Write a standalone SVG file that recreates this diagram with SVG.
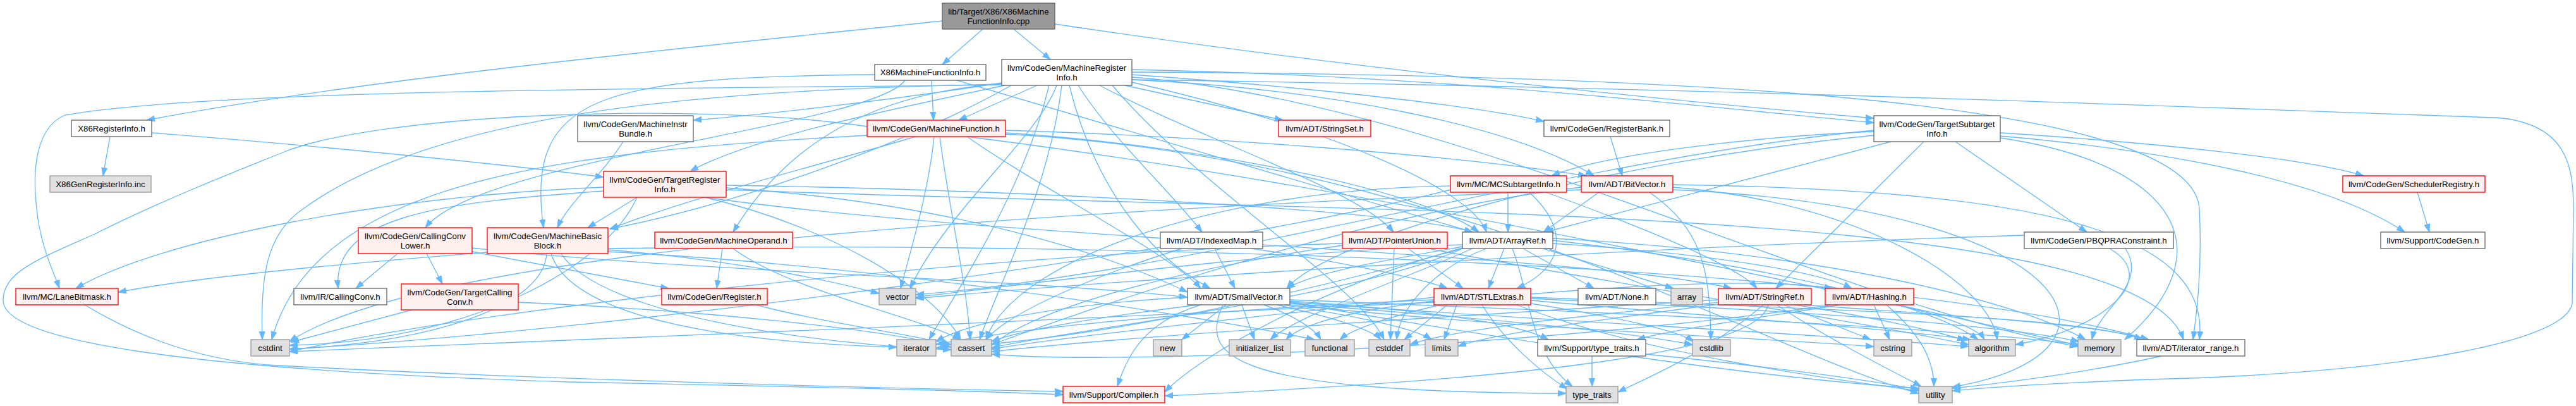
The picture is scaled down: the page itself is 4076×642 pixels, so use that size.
<svg xmlns="http://www.w3.org/2000/svg" width="4076" height="642" viewBox="0 0 4076 642">
<style>
rect{stroke-width:1.33}
.w rect{fill:#ffffff;stroke:#666666}
.r rect{fill:#fff0f0;stroke:#ff0000}
.g rect{fill:#e0e0e0;stroke:#999999}
.t rect{fill:#999999;stroke:#666666}
text{font-family:"Liberation Sans",Arial,Helvetica,sans-serif;font-size:13.33px;text-anchor:middle;fill:#000000}
</style>
<defs>
<marker id="a" markerWidth="14" markerHeight="10" refX="13" refY="5" orient="auto" markerUnits="userSpaceOnUse"><path d="M0,0.5 L13,5 L0,9.5 z" fill="#63b8ff" stroke="#63b8ff" stroke-width="1"/></marker>
</defs>
<rect x="0" y="0" width="4076" height="642" fill="#ffffff" stroke="none"/>
<g id="edges" fill="none" stroke="#63b8ff" stroke-width="1.33" marker-end="url(#a)">
<path d="M1555,46 L1491,102"/>
<path d="M1604,46 L1662,94"/>
<path d="M1491,33 C1150,70 600,120 232,190"/>
<path d="M1669,38 C2150,110 2650,160 2965,187"/>
<path d="M1474,127 L1477,190"/>
<path d="M1432,127 C1380,200 760,250 673,360"/>
<path d="M1384,118 C950,122 830,150 860,360"/>
<path d="M1514,127 L2330,367"/>
<path d="M1585,131 C1400,160 1200,182 1097,190"/>
<path d="M1590,135 C1400,175 1180,220 1092,271"/>
<path d="M1641,135 L1517,190"/>
<path d="M1585,134 C1200,140 350,138 103,182 C60,200 50,260 58,330 C64,390 85,430 94,456"/>
<path d="M1585,133 C1150,142 700,170 480,330 C420,370 412,440 415,537"/>
<path d="M1600,135 C1450,220 1180,320 965,362"/>
<path d="M1585,132 C1420,145 1260,200 1160,367"/>
<path d="M1791,110 C2300,120 2700,170 2965,194"/>
<path d="M1780,135 L2030,190"/>
<path d="M1791,118 C2100,140 2350,170 2443,192"/>
<path d="M1791,126 C2100,140 2400,200 2522,278"/>
<path d="M1706,135 C1760,220 1850,300 1902,367"/>
<path d="M1740,135 C1900,220 2150,300 2205,367"/>
<path d="M1791,130 C2100,200 2330,300 2352,367"/>
<path d="M1692,135 C1720,250 1790,390 1915,456"/>
<path d="M1791,114 C2700,118 3470,160 3480,330 C3485,430 3475,500 3470,537"/>
<path d="M1791,122 C2300,160 2900,480 3288,548"/>
<path d="M1791,126 C2800,140 3600,175 3950,186 C4060,195 4072,260 4072,330 L4070,480 C4060,540 3800,590 3400,600 C3250,606 3150,612 3089,618"/>
<path d="M1672,135 C1640,220 1500,330 1440,456"/>
<path d="M1680,135 C1660,300 1580,450 1550,537"/>
<path d="M1760,135 C1900,300 2150,450 2190,537"/>
<path d="M1660,135 C1620,300 1520,450 1470,537"/>
<path d="M2965,208 C2800,215 2550,240 2455,278"/>
<path d="M2992,224 L2445,367"/>
<path d="M2965,214 C2500,260 2100,380 2036,456"/>
<path d="M3044,224 L2810,456"/>
<path d="M3094,224 L3302,367"/>
<path d="M3165,210 C3400,225 3650,250 3740,278"/>
<path d="M3165,215 C3450,240 3690,290 3805,367"/>
<path d="M3165,218 C3450,260 3520,400 3362,537"/>
<path d="M2965,206 C2500,250 1900,430 1449,466"/>
<path d="M3203,372 C2600,390 1800,440 1449,472"/>
<path d="M3338,393 C3420,440 3330,520 3189,545"/>
<path d="M3363,393 C3400,450 3320,490 3310,537"/>
<path d="M3825,304 L3844,367"/>
<path d="M2548,216 L2567,278"/>
<path d="M1591,206 C1900,215 2300,245 2510,278"/>
<path d="M1591,210 C1900,230 2250,300 2340,367"/>
<path d="M1530,216 C1650,300 1850,400 1900,456"/>
<path d="M1449,216 C1300,260 1100,310 965,362"/>
<path d="M1478,216 C1470,300 1440,400 1425,456"/>
<path d="M1487,216 C1500,320 1530,450 1535,537"/>
<path d="M1372,214 C900,240 500,280 430,537"/>
<path d="M1530,216 C2200,300 3000,480 3288,546"/>
<path d="M1591,212 C2300,250 2800,560 3036,622"/>
<path d="M1372,200 C1100,160 600,180 450,240 C350,280 250,320 150,370 C60,410 5,430 5,475 C5,540 300,585 900,604 C1300,612 1550,618 1682,624"/>
<path d="M1008,312 L930,360"/>
<path d="M955,302 C700,320 525,340 535,456"/>
<path d="M955,296 C600,310 250,380 120,456"/>
<path d="M1149,293 C1600,300 2200,330 2330,367"/>
<path d="M1149,297 C1500,320 1750,400 1879,462"/>
<path d="M1115,312 C1600,380 2500,400 2740,456"/>
<path d="M1149,300 C2200,340 3380,320 3455,537"/>
<path d="M1115,312 C1320,360 1480,460 1520,537"/>
<path d="M1008,312 C960,420 750,540 458,546"/>
<path d="M629,401 L563,456"/>
<path d="M675,401 L700,449"/>
<path d="M747,398 L1058,456"/>
<path d="M747,392 C1100,430 1600,440 1879,470"/>
<path d="M771,399 C500,420 300,440 187,462"/>
<path d="M865,401 C860,480 700,540 458,552"/>
<path d="M872,401 C900,490 1100,540 1419,549"/>
<path d="M888,401 C950,500 1300,545 1505,553"/>
<path d="M962,398 C1400,420 1900,500 2080,537"/>
<path d="M962,395 C1150,410 1300,440 1391,464"/>
<path d="M962,393 C1800,380 3000,420 3400,537"/>
<path d="M1143,393 L1134,456"/>
<path d="M1160,393 C1250,460 1450,500 1520,537"/>
<path d="M1196,482 C1300,510 1450,530 1505,545"/>
<path d="M652,490 L460,541"/>
<path d="M820,478 C1100,490 1400,520 1505,549"/>
<path d="M1922,393 L1954,456"/>
<path d="M1980,393 C2100,410 2250,440 2290,456"/>
<path d="M1870,393 C1750,430 1600,490 1560,537"/>
<path d="M2228,393 L2315,456"/>
<path d="M2206,393 L2200,537"/>
<path d="M2124,388 C1900,420 1650,480 1569,546"/>
<path d="M2124,385 C1600,400 800,480 458,556"/>
<path d="M2260,393 C2500,440 2900,500 3115,545"/>
<path d="M2380,393 L2355,456"/>
<path d="M2410,393 L2522,456"/>
<path d="M2442,393 L2648,456"/>
<path d="M2457,385 C2700,400 2880,430 2930,456"/>
<path d="M2314,390 C2200,410 2080,430 2036,456"/>
<path d="M2352,393 C2280,420 2215,480 2210,537"/>
<path d="M2393,393 C2420,460 2420,560 2488,611"/>
<path d="M2314,392 C2100,450 1900,560 1843,620"/>
<path d="M2457,380 C2800,420 3050,480 3130,537"/>
<path d="M2457,377 C2900,400 3200,480 3300,537"/>
<path d="M2314,387 C2000,400 1700,440 1449,470"/>
<path d="M2314,393 C2150,470 1700,520 1569,550"/>
<path d="M2314,393 C2000,480 1700,540 1481,550"/>
<path d="M2330,393 C2200,450 2050,500 2010,537"/>
<path d="M2422,465 C2600,450 2800,440 2900,456"/>
<path d="M2422,470 C2900,490 3300,500 3390,537"/>
<path d="M2422,475 C2700,500 3000,520 3118,537"/>
<path d="M2269,470 C2000,500 1700,530 1569,552"/>
<path d="M2290,482 L2222,537"/>
<path d="M2269,478 C1800,500 900,540 458,556"/>
<path d="M2422,480 C2550,500 2650,520 2680,540"/>
<path d="M2280,482 C2200,500 2140,520 2120,537"/>
<path d="M2269,476 C2150,490 2060,510 2035,537"/>
<path d="M2269,474 C1900,490 1600,520 1481,545"/>
<path d="M2305,482 L2285,537"/>
<path d="M2422,472 C2800,490 3150,510 3290,540"/>
<path d="M2345,482 C2380,540 2440,590 2480,615"/>
<path d="M2400,482 C2600,560 2900,600 3036,618"/>
<path d="M2854,482 C3100,500 3300,510 3400,537"/>
<path d="M2798,482 C2780,560 2400,600 1843,626"/>
<path d="M2840,482 C2950,500 3050,520 3110,538"/>
<path d="M2719,474 C2300,500 1800,530 1569,556"/>
<path d="M2719,478 C2500,500 2300,520 2231,545"/>
<path d="M2823,482 L2960,537"/>
<path d="M2719,481 C2500,510 2350,530 2307,548"/>
<path d="M2790,482 C2700,560 2600,600 2560,620"/>
<path d="M2811,482 C2900,540 3000,590 3040,611"/>
<path d="M2912,482 C2800,500 2650,520 2590,537"/>
<path d="M2900,482 C2500,540 1800,580 1569,560"/>
<path d="M2965,482 L2990,537"/>
<path d="M2985,482 C3040,530 3060,570 3060,611"/>
<path d="M3000,482 C3080,500 3130,520 3140,537"/>
<path d="M2519,563 L2519,611"/>
<path d="M2604,560 C2800,580 2950,600 3036,616"/>
<path d="M3420,563 C3300,590 3150,608 3089,614"/>
<path d="M134,482 C230,540 330,572 440,578 C850,600 1400,614 1682,619"/>
<path d="M1896,482 C1750,500 1620,520 1569,540"/>
<path d="M1900,482 C1810,510 1785,560 1768,611"/>
<path d="M2041,476 C2250,490 2400,510 2450,537"/>
<path d="M2041,478 C2500,510 2900,530 3115,548"/>
<path d="M2020,482 C2100,500 2170,520 2185,537"/>
<path d="M2041,480 C2300,500 2550,520 2678,545"/>
<path d="M2041,482 C2400,520 2800,535 2965,548"/>
<path d="M2000,482 C2050,500 2080,520 2090,537"/>
<path d="M1965,482 L1985,537"/>
<path d="M1879,470 C1700,480 1540,505 1481,540"/>
<path d="M2030,482 C2150,500 2240,520 2265,537"/>
<path d="M2041,474 C2700,500 3100,520 3290,545"/>
<path d="M1940,482 L1870,537"/>
<path d="M1935,482 C1900,560 1930,620 2478,622"/>
<path d="M2041,478 C2400,540 2800,600 3036,614"/>
<path d="M2530,304 L2442,367"/>
<path d="M2647,292 C3200,300 3500,360 3480,537"/>
<path d="M2647,296 C2950,320 3150,450 3160,537"/>
<path d="M2502,296 C2200,330 1800,460 1569,545"/>
<path d="M2502,300 C1800,330 700,380 458,540"/>
<path d="M2610,304 C2690,360 2706,420 2707,537"/>
<path d="M2647,300 C3300,330 3400,560 3089,612"/>
<path d="M2386,304 L2386,367"/>
<path d="M2420,304 C2480,360 2480,420 2400,456"/>
<path d="M2446,304 C2600,360 2750,420 2780,456"/>
<path d="M2295,294 C1900,300 1600,420 1560,537"/>
<path d="M2295,300 C1900,400 1000,520 458,552"/>
<path d="M174,216 L163,278"/>
<path d="M240,210 C500,230 800,260 955,280"/>
<path d="M986,224 C950,280 900,320 882,360"/>
</g>
<g id="n0" class="t"><rect x="1491" y="5" width="178" height="41"/><text x="1580" y="23">lib/Target/X86/X86Machine</text><text x="1580" y="38">FunctionInfo.cpp</text></g>
<g id="n1" class="w"><rect x="1384" y="102" width="176" height="25"/><text x="1472" y="119">X86MachineFunctionInfo.h</text></g>
<g id="n2" class="w"><rect x="1585" y="94" width="206" height="41"/><text x="1688" y="112">llvm/CodeGen/MachineRegister</text><text x="1688" y="127">Info.h</text></g>
<g id="n3" class="w"><rect x="113" y="190" width="127" height="26"/><text x="176.5" y="207.5">X86RegisterInfo.h</text></g>
<g id="n4" class="w"><rect x="914" y="183" width="183" height="41"/><text x="1005.5" y="201">llvm/CodeGen/MachineInstr</text><text x="1005.5" y="216">Bundle.h</text></g>
<g id="n5" class="r"><rect x="1372" y="190" width="219" height="26"/><text x="1481.5" y="207.5">llvm/CodeGen/MachineFunction.h</text></g>
<g id="n6" class="r"><rect x="2023" y="190" width="146" height="26"/><text x="2096" y="207.5">llvm/ADT/StringSet.h</text></g>
<g id="n7" class="w"><rect x="2443" y="190" width="199" height="26"/><text x="2542.5" y="207.5">llvm/CodeGen/RegisterBank.h</text></g>
<g id="n8" class="w"><rect x="2965" y="183" width="200" height="41"/><text x="3065" y="201">llvm/CodeGen/TargetSubtarget</text><text x="3065" y="216">Info.h</text></g>
<g id="n9" class="g"><rect x="79" y="278" width="160" height="26"/><text x="159" y="295.5">X86GenRegisterInfo.inc</text></g>
<g id="n10" class="r"><rect x="955" y="271" width="194" height="41"/><text x="1052" y="289">llvm/CodeGen/TargetRegister</text><text x="1052" y="304">Info.h</text></g>
<g id="n11" class="r"><rect x="2295" y="278" width="184" height="26"/><text x="2387" y="295.5">llvm/MC/MCSubtargetInfo.h</text></g>
<g id="n12" class="r"><rect x="2502" y="278" width="145" height="26"/><text x="2574.5" y="295.5">llvm/ADT/BitVector.h</text></g>
<g id="n13" class="r"><rect x="3707" y="278" width="225" height="26"/><text x="3819.5" y="295.5">llvm/CodeGen/SchedulerRegistry.h</text></g>
<g id="n14" class="r"><rect x="567" y="360" width="180" height="41"/><text x="657" y="378">llvm/CodeGen/CallingConv</text><text x="657" y="393">Lower.h</text></g>
<g id="n15" class="r"><rect x="771" y="360" width="191" height="41"/><text x="866.5" y="378">llvm/CodeGen/MachineBasic</text><text x="866.5" y="393">Block.h</text></g>
<g id="n16" class="r"><rect x="1036" y="367" width="218" height="26"/><text x="1145" y="384.5">llvm/CodeGen/MachineOperand.h</text></g>
<g id="n17" class="w"><rect x="1836" y="367" width="162" height="26"/><text x="1917" y="384.5">llvm/ADT/IndexedMap.h</text></g>
<g id="n18" class="r"><rect x="2124" y="367" width="166" height="26"/><text x="2207" y="384.5">llvm/ADT/PointerUnion.h</text></g>
<g id="n19" class="w"><rect x="2314" y="367" width="143" height="26"/><text x="2385.5" y="384.5">llvm/ADT/ArrayRef.h</text></g>
<g id="n20" class="w"><rect x="3203" y="367" width="236" height="26"/><text x="3321" y="384.5">llvm/CodeGen/PBQPRAConstraint.h</text></g>
<g id="n21" class="w"><rect x="3767" y="367" width="165" height="26"/><text x="3849.5" y="384.5">llvm/Support/CodeGen.h</text></g>
<g id="n22" class="r"><rect x="25" y="456" width="162" height="26"/><text x="106" y="473.5">llvm/MC/LaneBitmask.h</text></g>
<g id="n23" class="w"><rect x="465" y="456" width="147" height="26"/><text x="538.5" y="473.5">llvm/IR/CallingConv.h</text></g>
<g id="n24" class="r"><rect x="635" y="449" width="185" height="41"/><text x="727.5" y="467">llvm/CodeGen/TargetCalling</text><text x="727.5" y="482">Conv.h</text></g>
<g id="n25" class="r"><rect x="1047" y="456" width="167" height="26"/><text x="1130.5" y="473.5">llvm/CodeGen/Register.h</text></g>
<g id="n26" class="g"><rect x="1391" y="456" width="58" height="26"/><text x="1420" y="473.5">vector</text></g>
<g id="n27" class="w"><rect x="1879" y="456" width="162" height="26"/><text x="1960" y="473.5">llvm/ADT/SmallVector.h</text></g>
<g id="n28" class="r"><rect x="2269" y="456" width="153" height="26"/><text x="2345.5" y="473.5">llvm/ADT/STLExtras.h</text></g>
<g id="n29" class="w"><rect x="2497" y="456" width="123" height="26"/><text x="2558.5" y="473.5">llvm/ADT/None.h</text></g>
<g id="n30" class="g"><rect x="2644" y="456" width="50" height="26"/><text x="2669" y="473.5">array</text></g>
<g id="n31" class="r"><rect x="2719" y="456" width="147" height="26"/><text x="2792.5" y="473.5">llvm/ADT/StringRef.h</text></g>
<g id="n32" class="r"><rect x="2888" y="456" width="140" height="26"/><text x="2958" y="473.5">llvm/ADT/Hashing.h</text></g>
<g id="n33" class="g"><rect x="397" y="537" width="61" height="26"/><text x="427.5" y="554.5">cstdint</text></g>
<g id="n34" class="g"><rect x="1419" y="537" width="62" height="26"/><text x="1450" y="554.5">iterator</text></g>
<g id="n35" class="g"><rect x="1505" y="537" width="64" height="26"/><text x="1537" y="554.5">cassert</text></g>
<g id="n36" class="g"><rect x="1825" y="537" width="45" height="26"/><text x="1847.5" y="554.5">new</text></g>
<g id="n37" class="g"><rect x="1945" y="537" width="97" height="26"/><text x="1993.5" y="554.5">initializer_list</text></g>
<g id="n38" class="g"><rect x="2065" y="537" width="78" height="26"/><text x="2104" y="554.5">functional</text></g>
<g id="n39" class="g"><rect x="2166" y="537" width="65" height="26"/><text x="2198.5" y="554.5">cstddef</text></g>
<g id="n40" class="g"><rect x="2255" y="537" width="52" height="26"/><text x="2281" y="554.5">limits</text></g>
<g id="n41" class="w"><rect x="2433" y="537" width="171" height="26"/><text x="2518.5" y="554.5">llvm/Support/type_traits.h</text></g>
<g id="n42" class="g"><rect x="2678" y="537" width="60" height="26"/><text x="2708" y="554.5">cstdlib</text></g>
<g id="n43" class="g"><rect x="2965" y="537" width="60" height="26"/><text x="2995" y="554.5">cstring</text></g>
<g id="n44" class="g"><rect x="3115" y="537" width="74" height="26"/><text x="3152" y="554.5">algorithm</text></g>
<g id="n45" class="g"><rect x="3288" y="537" width="68" height="26"/><text x="3322" y="554.5">memory</text></g>
<g id="n46" class="w"><rect x="3381" y="537" width="171" height="26"/><text x="3466.5" y="554.5">llvm/ADT/iterator_range.h</text></g>
<g id="n47" class="r"><rect x="1682" y="611" width="161" height="26"/><text x="1762.5" y="628.5">llvm/Support/Compiler.h</text></g>
<g id="n48" class="g"><rect x="2478" y="611" width="82" height="26"/><text x="2519" y="628.5">type_traits</text></g>
<g id="n49" class="g"><rect x="3036" y="611" width="53" height="26"/><text x="3062.5" y="628.5">utility</text></g>
</svg>
